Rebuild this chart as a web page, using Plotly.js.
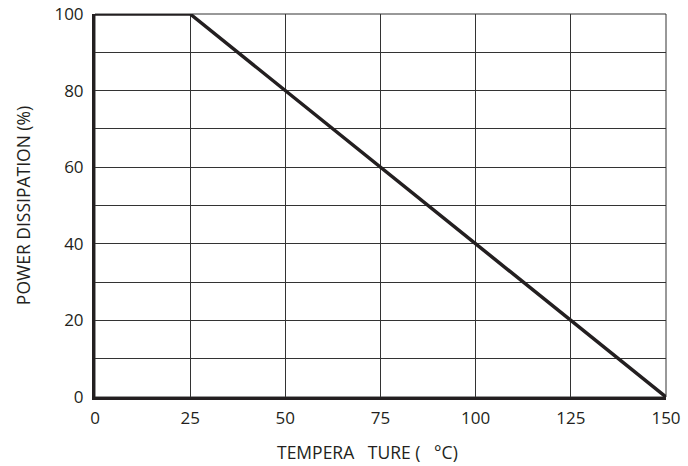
<!DOCTYPE html>
<html>
<head>
<meta charset="utf-8">
<script src="https://cdn.plot.ly/plotly-3.0.1.min.js"></script>
<style>html,body{margin:0;padding:0;background:#fff;}#chart{width:688px;height:466px;}</style>
</head>
<body>
<div id="chart"></div>
<script>
const temperature = [0, 25, 150];
const powerDissipation = [100, 100, 0];
const xTicks = [0, 25, 50, 75, 100, 125, 150];
const yTicks = [0, 20, 40, 60, 80, 100];
const xTitle = "TEMPERA\u00a0\u00a0\u00a0TURE (\u00a0\u00a0\u00a0°C)";
const yTitle = "POWER DISSIPATION (%)";

const ink = '#231f20';
const tickFont = {family: '"Open Sans", "Liberation Sans", sans-serif', size: 17, color: ink};
const titleFont = {family: '"Open Sans", "Liberation Sans", sans-serif', size: 17.5, color: ink};

Plotly.newPlot('chart', [{
  x: temperature, y: powerDissipation, type: 'scatter', mode: 'lines',
  line: {color: ink, width: 3.5}, hoverinfo: 'skip'
}], {
  width: 688, height: 466,
  margin: {l: 95, r: 22, t: 14, b: 69, pad: 0},
  paper_bgcolor: '#fff', plot_bgcolor: '#fff',
  font: tickFont, showlegend: false,
  xaxis: {
    range: [0, 150], tickmode: 'array', tickvals: xTicks, ticktext: xTicks.map(String),
    showgrid: true, gridcolor: '#333', gridwidth: 1, zeroline: false,
    showline: true, linecolor: ink, linewidth: 3, ticks: '', ticklabelstandoff: 4,
    tickfont: tickFont, fixedrange: true
  },
  yaxis: {
    range: [0, 100], tickmode: 'array', tickvals: yTicks, ticktext: yTicks.map(String),
    showgrid: true, gridcolor: '#333', gridwidth: 1, zeroline: false,
    minor: {dtick: 10, showgrid: true, gridcolor: '#333', gridwidth: 1},
    showline: true, linecolor: ink, linewidth: 3, ticks: '', ticklabelstandoff: 5,
    tickfont: tickFont,
    title: {text: yTitle, font: titleFont, standoff: 20}, fixedrange: true
  },
  annotations: [{
    text: xTitle, xref: 'paper', yref: 'paper', x: 0.5, y: 0,
    xanchor: 'center', yanchor: 'middle', xshift: -13, yshift: -55,
    borderpad: 0, showarrow: false, font: titleFont
  }],
  shapes: [{type: 'rect', xref: 'paper', yref: 'paper', x0: 0, y0: 0, x1: 1, y1: 1,
    line: {color: '#333', width: 1}, layer: 'below'}]
}, {staticPlot: true});
</script>
</body>
</html>
